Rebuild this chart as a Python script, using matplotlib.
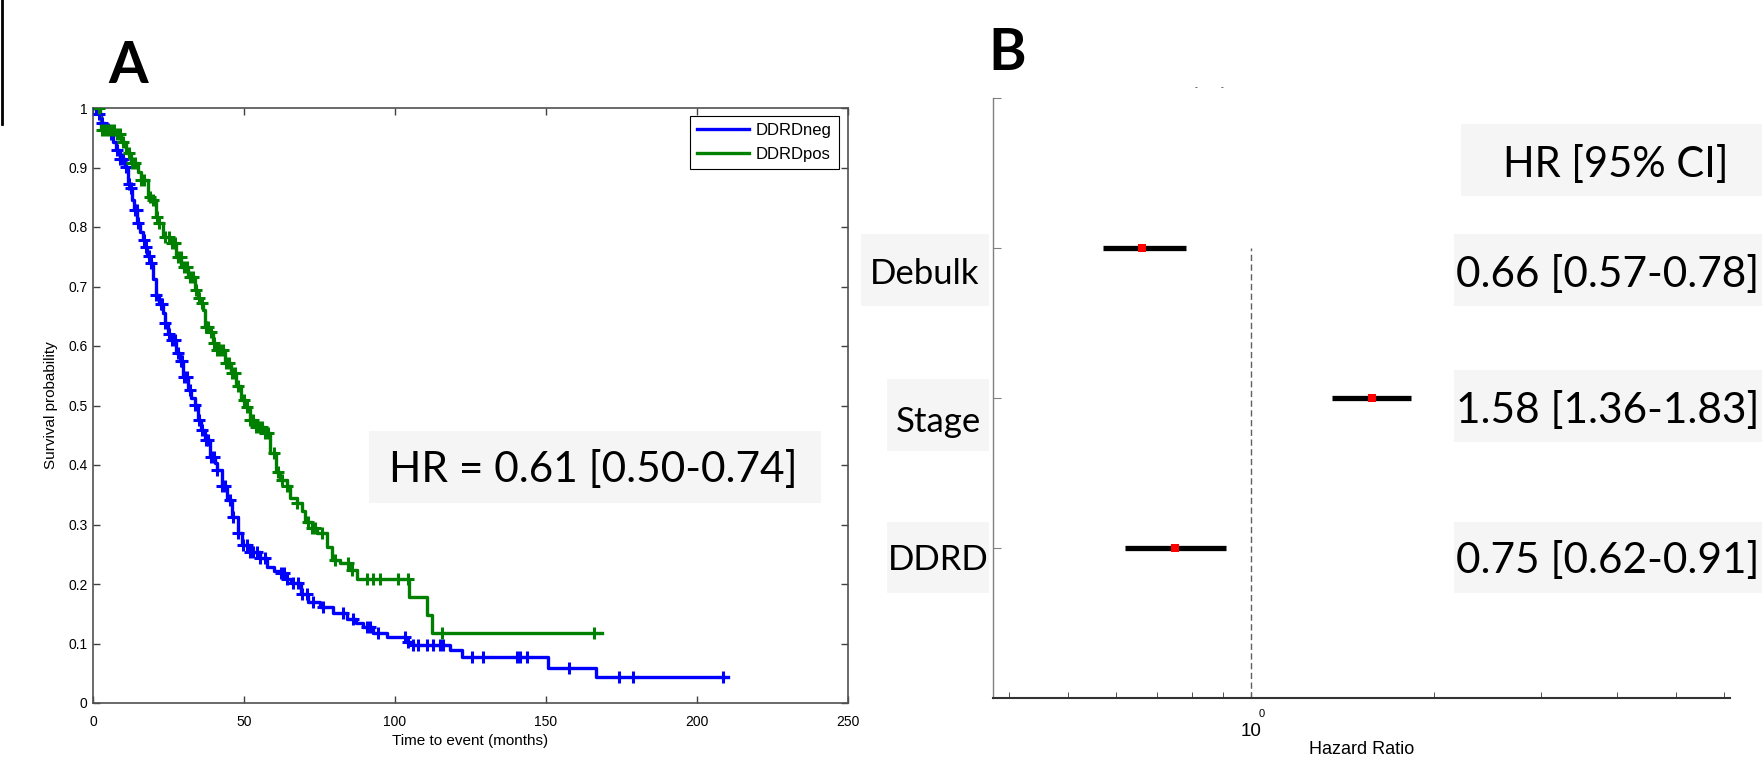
import numpy as np
import matplotlib
matplotlib.use('Agg')
import matplotlib.pyplot as plt
from matplotlib.patches import Rectangle
from matplotlib.lines import Line2D

# ---- data: Kaplan-Meier curves (time in months, survival after the drop) ----
neg_t = [0, 1.5, 2.75, 4, 5.5, 6.5, 7.7, 9, 10.5, 11.6, 12.1, 13, 13.6, 14.7, 15.6,
         16.6, 17.1, 18, 18.8, 19.8, 20.96, 22, 23.2, 23.7, 24.8, 25.9, 27.6, 28.7,
         29.8, 31.5, 32.6, 33.7, 34.8, 35.9, 37.0, 38.6, 40.3, 41.0, 42.6, 44.3,
         45.9, 48.1, 49.2, 52.0, 55.3, 57.5, 60, 62.3, 64, 65.6, 68.9, 71.3, 75.2,
         79.6, 84.0, 87, 89.5, 92.8, 97.3, 103.8, 106.0, 118.2, 122.1, 150.7, 166.6]
neg_s = [1.0, 0.99, 0.974, 0.965, 0.957, 0.943, 0.929, 0.915, 0.901, 0.873, 0.865,
         0.845, 0.829, 0.806, 0.792, 0.778, 0.767, 0.752, 0.739, 0.712, 0.686, 0.670,
         0.655, 0.638, 0.621, 0.610, 0.588, 0.574, 0.548, 0.526, 0.513, 0.501, 0.476,
         0.459, 0.442, 0.414, 0.403, 0.392, 0.364, 0.341, 0.313, 0.285, 0.266, 0.254,
         0.243, 0.229, 0.222, 0.218, 0.209, 0.201, 0.184, 0.170, 0.162, 0.151, 0.142,
         0.135, 0.128, 0.117, 0.111, 0.103, 0.097, 0.089, 0.077, 0.0594, 0.0443]
neg_end = 210.4
neg_cens = [1, 2, 3, 5, 6, 8, 9, 10, 11, 11.8, 12.5, 13.8, 14.5, 15, 16.8, 17.5, 18.5,
            19.2, 21, 22.5, 23, 24, 25, 26, 27, 28, 29, 29.5, 30, 31, 32, 33.8, 35,
            36, 37.5, 38, 39, 40, 41, 42.6, 43.7, 45.4, 46.5, 48.1, 49.8, 50.9, 52.0,
            53.1, 54.2, 55.3, 57.0, 62.3, 63.4, 64.1, 66.3, 68.0, 69.1, 70.8, 72.9,
            76.3, 82.9, 86.2, 90.6, 91.7, 94.5, 103.3, 104.4, 106.1, 107.7, 110.5,
            112.7, 114.9, 116.0, 125.4, 129.2, 140.3, 141.4, 143.8, 157.7, 174.2,
            178.7, 208.5]

pos_t = [0, 2.2, 2.75, 7.2, 9.4, 11.0, 12.7, 14.9, 16.0, 18.2, 19.9, 21.0, 21.5, 23.2,
         25.4, 27.6, 29.2, 31.5, 33.7, 34.8, 35.3, 36.4, 37.0, 38.6, 39.7, 40.8, 43.6,
         45.8, 47.5, 49.1, 50.8, 51.9, 53.5, 56.8, 58.5, 60.7, 61.9, 64.1, 65.2, 67.4,
         69.1, 70.2, 72.4, 74.1, 77.4, 79.0, 81.8, 85.1, 87.3, 104.7, 110.7, 112.1]
pos_s = [1.0, 0.983, 0.963, 0.957, 0.943, 0.924, 0.907, 0.893, 0.879, 0.851, 0.845,
         0.817, 0.806, 0.784, 0.773, 0.750, 0.733, 0.716, 0.694, 0.680, 0.672, 0.661,
         0.632, 0.624, 0.605, 0.593, 0.571, 0.554, 0.532, 0.509, 0.498, 0.476, 0.464,
         0.453, 0.420, 0.389, 0.375, 0.364, 0.344, 0.336, 0.322, 0.305, 0.294, 0.285,
         0.263, 0.240, 0.235, 0.224, 0.208, 0.178, 0.148, 0.118]
pos_end = 168.4
pos_cens = [2, 3, 4, 5, 6, 7, 8, 9, 10, 12, 13, 14, 16, 17, 19, 20, 21.2, 22, 24, 25,
            26, 27, 28, 29, 30, 31, 32, 33, 34, 35, 36, 37.5, 38, 39, 40, 41, 42, 43,
            44, 45, 46, 47, 48, 50, 51, 52, 53, 54, 55, 56, 57, 58, 60, 61.4, 62.5,
            64.1, 67.4, 71.3, 72.4, 73.5, 75.7, 80.1, 84.5, 85.7, 90.6, 92.8, 95.0,
            101.1, 104.4, 115.5, 165.9]

series_names = ['DDRDneg', 'DDRDpos']
hr_text_a = 'HR = 0.61 [0.50-0.74]'

x_ticks_a = [0, 50, 100, 150, 200, 250]
y_ticks_a = [0, 0.1, 0.2, 0.3, 0.4, 0.5, 0.6, 0.7, 0.8, 0.9, 1]
y_tick_labels_a = ['0', '0.1', '0.2', '0.3', '0.4', '0.5', '0.6', '0.7', '0.8', '0.9', '1']

# ---- data: forest plot ----
covariates = ['Debulk', 'Stage', 'DDRD']
cov_rows = [3, 2, 1]
hr_vals = [0.66, 1.58, 0.75]
ci_low = [0.57, 1.36, 0.62]
ci_high = [0.78, 1.83, 0.91]

W, H = 1762, 759


def fx(px):
    return px / W


def fy(py):
    return 1 - py / H


plt.rcParams['font.family'] = ['Liberation Sans', 'DejaVu Sans']
BIG = ['Lato', 'DejaVu Sans']
BOXC = '#f5f5f5'

fig = plt.figure(figsize=(W / 100, H / 100), dpi=100)


def box(x0, x1, y0, y1):
    fig.patches.append(Rectangle((fx(x0), fy(y1)), fx(x1) - fx(x0), fy(y0) - fy(y1),
                                 transform=fig.transFigure, fc=BOXC, ec='none', zorder=-5))


# ---------------- panel A ----------------
ax = fig.add_axes([fx(93), fy(703), fx(848) - fx(93), fy(108) - fy(703)])
ax.set_facecolor('none')


def km(t, s, t_end, cens, color, label):
    tt = np.append(t, t_end)
    ss = np.append(s, s[-1])
    ln, = ax.plot(tt, ss, drawstyle='steps-post', color=color, lw=2.4, label=label, zorder=3)
    idx = np.searchsorted(t, cens, side='right') - 1
    ax.plot(cens, np.asarray(s)[idx], '+', color=color, ms=9, mew=2.2, zorder=4)
    return ln


h1 = km(neg_t, neg_s, neg_end, neg_cens, '#0000ff', series_names[0])
h2 = km(pos_t, pos_s, pos_end, pos_cens, '#008000', series_names[1])

ax.set_xlim(0, 250)
ax.set_ylim(0, 1)
ax.set_xticks(x_ticks_a)
ax.set_yticks(y_ticks_a)
ax.set_yticklabels(y_tick_labels_a)
ax.tick_params(direction='in', length=5, width=1, top=True, right=True,
               labelsize=10, color='#404040')
ax.tick_params(axis='x', pad=8.5)
ax.tick_params(axis='y', pad=4)
for sp in ax.spines.values():
    sp.set_color('#505050')
    sp.set_linewidth(1.2)
ax.set_xlabel('Time to event (months)', fontsize=11)
ax.set_ylabel('Survival probability', fontsize=11)
ax.xaxis.set_label_coords(0.5, -0.052)
ax.yaxis.set_label_coords(-0.046, 0.5)

leg = ax.legend([h1, h2], series_names, loc='upper right', bbox_to_anchor=(0.988, 0.987),
                fontsize=12, frameon=True, fancybox=False, edgecolor='black',
                framealpha=1, borderaxespad=0, handlelength=3.1, handletextpad=0.4,
                labelspacing=0.5, borderpad=0.45)
leg.get_frame().set_linewidth(0.8)

box(369, 821, 431, 503)
fig.text(fx(389), fy(481.7), hr_text_a, fontsize=30.5, family=BIG, va='baseline', ha='left')

fig.text(fx(108), fy(83), 'A', fontsize=41, family=BIG, weight='bold', va='baseline')

# ---------------- panel B ----------------
ax2 = fig.add_axes([fx(993), fy(698), fx(1730) - fx(993), fy(98) - fy(698)])
ax2.set_facecolor('none')
ax2.set_xscale('log')
ax2.set_xlim(0.376, 6.13)
ax2.set_ylim(0, 4)

ax2.plot([1, 1], [0, 3], ls=(0, (4.5, 2.5)), color='#606060', lw=1)
lo_err = np.array(hr_vals) - np.array(ci_low)
hi_err = np.array(ci_high) - np.array(hr_vals)
ax2.errorbar(hr_vals, cov_rows, xerr=[lo_err, hi_err], fmt='s', color='#ff0000', ms=5.2,
             mew=0, ecolor='black', elinewidth=3.8, capsize=0, zorder=3)

ax2.set_xticks([1])
ax2.set_xticklabels(['10'])
ax2.xaxis.set_minor_formatter(plt.NullFormatter())
ax2.tick_params(axis='x', which='both', direction='in', length=4, labelsize=13.5, pad=18,
                color='#333333')
ax2.annotate('0', xy=(1, 0), xycoords=('data', 'axes fraction'), xytext=(7.6, -11.5),
             textcoords='offset points', fontsize=8, ha='center', va='center')
ax2.set_yticks([1, 2, 3, 4])
ax2.set_yticklabels([])
ax2.tick_params(axis='y', direction='in', length=6, color='#808080')
ax2.spines['top'].set_visible(False)
ax2.spines['right'].set_visible(False)
ax2.spines['left'].set_color('#808080')
ax2.spines['left'].set_linewidth(1)
ax2.spines['bottom'].set_color('#333333')
ax2.spines['bottom'].set_linewidth(1.5)
ax2.set_xlabel('Hazard Ratio', fontsize=13, va='bottom')
ax2.xaxis.set_label_coords(0.5, (698 - 758) / 600)

fig.text(fx(988), fy(70), 'B', fontsize=41, family=BIG, weight='bold', va='baseline')
fig.text(fx(1196), fy(88), '-', fontsize=6, ha='center', va='center')
fig.text(fx(1222), fy(88), '-', fontsize=6, ha='center', va='center')

# covariate label boxes and value boxes
label_boxes = [(861, 989, 234, 306), (887, 989, 379, 451), (887, 989, 522, 593)]
label_base = [284, 431.7, 570]
value_boxes = [(1454, 1762, 234, 306), (1454, 1762, 370, 442), (1454, 1762, 522, 593)]
value_base = [287, 423, 573]
for i, name in enumerate(covariates):
    x0, x1, y0, y1 = label_boxes[i]
    box(x0, x1, y0, y1)
    fig.text(fx((x0 + x1) / 2), fy(label_base[i]), name, fontsize=25, family=BIG,
             ha='center', va='baseline')
    x0, x1, y0, y1 = value_boxes[i]
    box(x0, x1, y0, y1)
    fig.text(fx(1456), fy(value_base[i]),
             f'{hr_vals[i]:.2f} [{ci_low[i]:.2f}-{ci_high[i]:.2f}]',
             fontsize=30.5, family=BIG, ha='left', va='baseline')

box(1461, 1762, 124, 196)
fig.text(fx(1616), fy(176.7), 'HR [95% CI]', fontsize=30, family=BIG, ha='center',
         va='baseline')

# frame edge at top-left
fig.add_artist(Line2D([fx(1.5), fx(1.5)], [fy(0), fy(124)], transform=fig.transFigure,
                      color='black', lw=2))

fig.savefig('out.png', dpi=100)
